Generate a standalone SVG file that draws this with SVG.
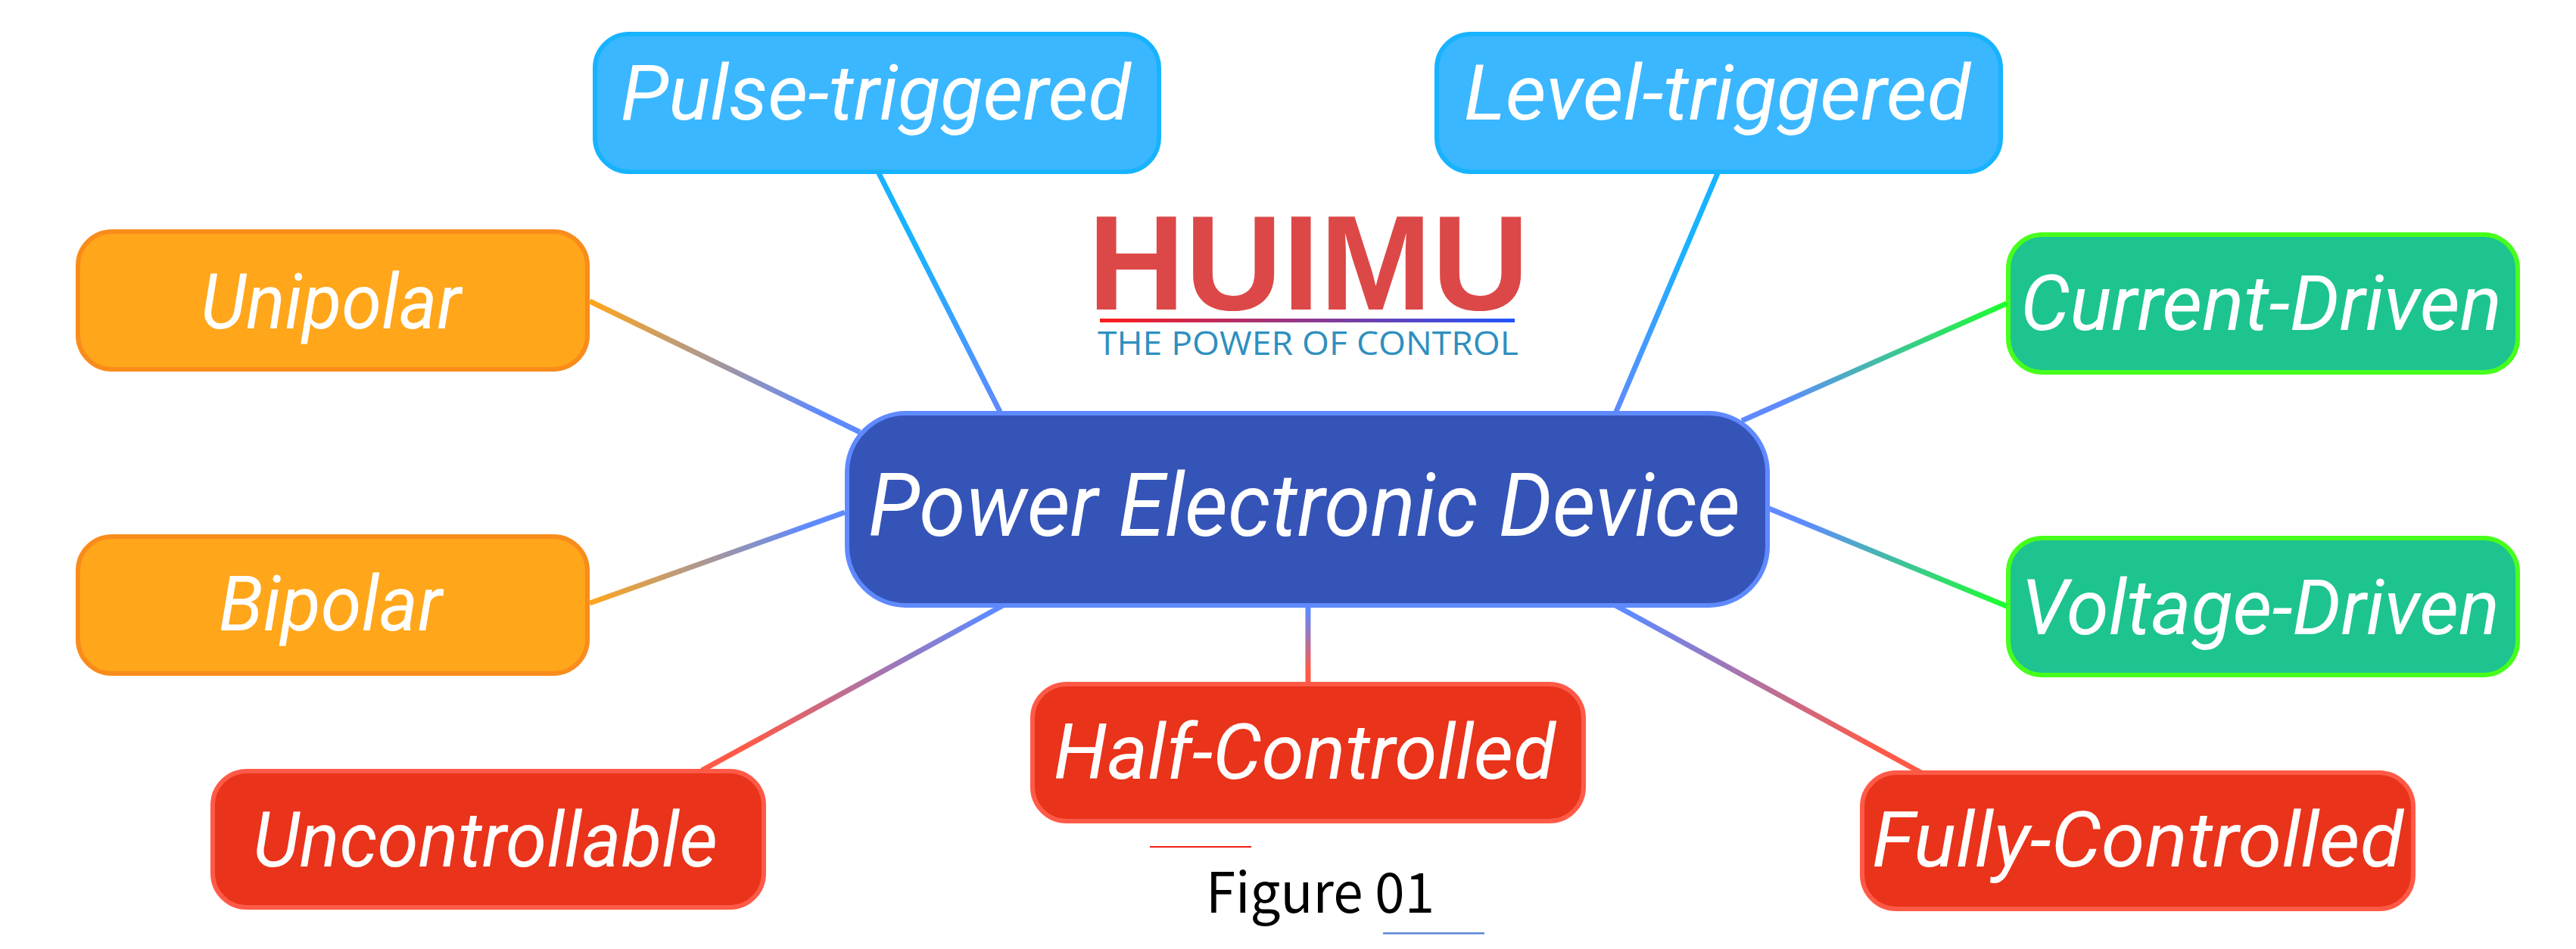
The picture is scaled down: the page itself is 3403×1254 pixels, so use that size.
<svg xmlns="http://www.w3.org/2000/svg" width="3403" height="1254" viewBox="0 0 3403 1254">
<style>
.box{stroke-width:6}
.lbl{font-family:Roboto,"Liberation Sans",sans-serif;font-style:italic;font-size:101px;fill:#fff}
.center{font-size:116px}
.orange{fill:#ffa61a;stroke:#f98c1a}
.blue{fill:#3bb7ff;stroke:#18b3ff}
.green{fill:#1dc490;stroke:#47ff1c}
.red{fill:#e9331a;stroke:#ff5a47}
.main{fill:#3454b8;stroke:#5f8aff}
.conn{fill:none;stroke-width:7}
</style>
<defs>
<linearGradient id="gU" gradientUnits="userSpaceOnUse" x1="779" y1="398" x2="1136" y2="571"><stop offset="0" stop-color="#ffa61a"/><stop offset="0.85" stop-color="#5f8aff"/></linearGradient>
<linearGradient id="gB" gradientUnits="userSpaceOnUse" x1="779" y1="797" x2="1116" y2="677"><stop offset="0" stop-color="#ffa61a"/><stop offset="0.85" stop-color="#5f8aff"/></linearGradient>
<linearGradient id="gC" gradientUnits="userSpaceOnUse" x1="2651" y1="401" x2="2301" y2="556"><stop offset="0" stop-color="#1cff2c"/><stop offset="0.85" stop-color="#5f8aff"/></linearGradient>
<linearGradient id="gV" gradientUnits="userSpaceOnUse" x1="2651" y1="801" x2="2337" y2="672"><stop offset="0" stop-color="#1cff2c"/><stop offset="0.85" stop-color="#5f8aff"/></linearGradient>
<linearGradient id="gP" gradientUnits="userSpaceOnUse" x1="1161" y1="229" x2="1321" y2="544"><stop offset="0.3" stop-color="#18b3ff"/><stop offset="1" stop-color="#5f8aff"/></linearGradient>
<linearGradient id="gL" gradientUnits="userSpaceOnUse" x1="2269" y1="229" x2="2135" y2="544"><stop offset="0.3" stop-color="#18b3ff"/><stop offset="1" stop-color="#5f8aff"/></linearGradient>
<linearGradient id="gX" gradientUnits="userSpaceOnUse" x1="927" y1="1018" x2="1325" y2="800"><stop offset="0.15" stop-color="#ff5a47"/><stop offset="0.95" stop-color="#5f8aff"/></linearGradient>
<linearGradient id="gH" gradientUnits="userSpaceOnUse" x1="1728" y1="901" x2="1728" y2="803"><stop offset="0.15" stop-color="#ff5a47"/><stop offset="0.95" stop-color="#5f8aff"/></linearGradient>
<linearGradient id="gF" gradientUnits="userSpaceOnUse" x1="2538" y1="1021" x2="2134" y2="800"><stop offset="0.15" stop-color="#ff5a47"/><stop offset="0.95" stop-color="#5f8aff"/></linearGradient>
<linearGradient id="gLogo" gradientUnits="userSpaceOnUse" x1="1453" y1="0" x2="2001" y2="0"><stop offset="0" stop-color="#ff1a1a"/><stop offset="1" stop-color="#1f55ff"/></linearGradient>
</defs>
<rect width="3403" height="1254" fill="#fff"/>
<g id="logo">
<text x="1437" y="409" font-family="'Liberation Sans',Arial,sans-serif" font-weight="700" font-size="179" fill="#dc4848" textLength="583" lengthAdjust="spacingAndGlyphs">HUIMU</text>
<rect x="1453" y="421" width="548" height="5" fill="url(#gLogo)"/>
<text x="1450" y="469" font-family="'Open Sans',sans-serif" font-size="44" fill="#2f8fbf" textLength="556" lengthAdjust="spacingAndGlyphs">THE POWER OF CONTROL</text>
</g>
<g id="node-center"><rect class="box main" x="1119" y="546" width="1216" height="254" rx="78"/><text class="lbl center" x="1147" y="708" textLength="1152" lengthAdjust="spacingAndGlyphs">Power Electronic Device</text></g>
<g id="node-pulse"><rect class="box blue" x="786" y="45" width="745" height="182" rx="45"/><text class="lbl" x="820" y="158" textLength="674" lengthAdjust="spacingAndGlyphs">Pulse-triggered</text></g>
<g id="node-level"><rect class="box blue" x="1898" y="45" width="745" height="182" rx="45"/><text class="lbl" x="1934" y="158" textLength="669" lengthAdjust="spacingAndGlyphs">Level-triggered</text></g>
<g id="node-unipolar"><rect class="box orange" x="103" y="306" width="673" height="182" rx="45"/><text class="lbl" x="265" y="434" textLength="344" lengthAdjust="spacingAndGlyphs">Unipolar</text></g>
<g id="node-bipolar"><rect class="box orange" x="103" y="709" width="673" height="181" rx="45"/><text class="lbl" x="289" y="833" textLength="295" lengthAdjust="spacingAndGlyphs">Bipolar</text></g>
<g id="node-current"><rect class="box green" x="2653" y="310" width="673" height="182" rx="45"/><text class="lbl" x="2669" y="436" textLength="636" lengthAdjust="spacingAndGlyphs">Current-Driven</text></g>
<g id="node-voltage"><rect class="box green" x="2653" y="711" width="673" height="181" rx="45"/><text class="lbl" x="2670" y="838" textLength="632" lengthAdjust="spacingAndGlyphs">Voltage-Driven</text></g>
<g id="node-uncontrollable"><rect class="box red" x="281" y="1019" width="728" height="180" rx="45"/><text class="lbl" x="334" y="1145" textLength="614" lengthAdjust="spacingAndGlyphs">Uncontrollable</text></g>
<g id="node-half"><rect class="box red" x="1364" y="904" width="728" height="181" rx="45"/><text class="lbl" x="1392" y="1029" textLength="663" lengthAdjust="spacingAndGlyphs">Half-Controlled</text></g>
<g id="node-fully"><rect class="box red" x="2460" y="1021" width="728" height="180" rx="45"/><text class="lbl" x="2473" y="1145" textLength="702" lengthAdjust="spacingAndGlyphs">Fully-Controlled</text></g>
<g id="connectors">
<line class="conn" x1="779" y1="398" x2="1136" y2="571" stroke="url(#gU)"/>
<line class="conn" x1="779" y1="797" x2="1116" y2="677" stroke="url(#gB)"/>
<line class="conn" x1="2651" y1="401" x2="2301" y2="556" stroke="url(#gC)"/>
<line class="conn" x1="2651" y1="801" x2="2337" y2="672" stroke="url(#gV)"/>
<line class="conn" x1="1161" y1="229" x2="1321" y2="544" stroke="url(#gP)"/>
<line class="conn" x1="2269" y1="229" x2="2135" y2="544" stroke="url(#gL)"/>
<line class="conn" x1="927" y1="1018" x2="1325" y2="800" stroke="url(#gX)"/>
<line class="conn" x1="1728" y1="901" x2="1728" y2="803" stroke="url(#gH)"/>
<line class="conn" x1="2538" y1="1021" x2="2134" y2="800" stroke="url(#gF)"/>
</g>
<g id="caption">
<rect x="1519" y="1118" width="134" height="2" fill="#f01c1c"/>
<text x="1593" y="1206" font-family="'Noto Sans CJK SC','Noto Sans',sans-serif" font-size="73" fill="#000" textLength="302" lengthAdjust="spacingAndGlyphs">Figure 01</text>
<rect x="1827" y="1232" width="134" height="2.5" fill="#5b86d8"/>
</g>
</svg>
